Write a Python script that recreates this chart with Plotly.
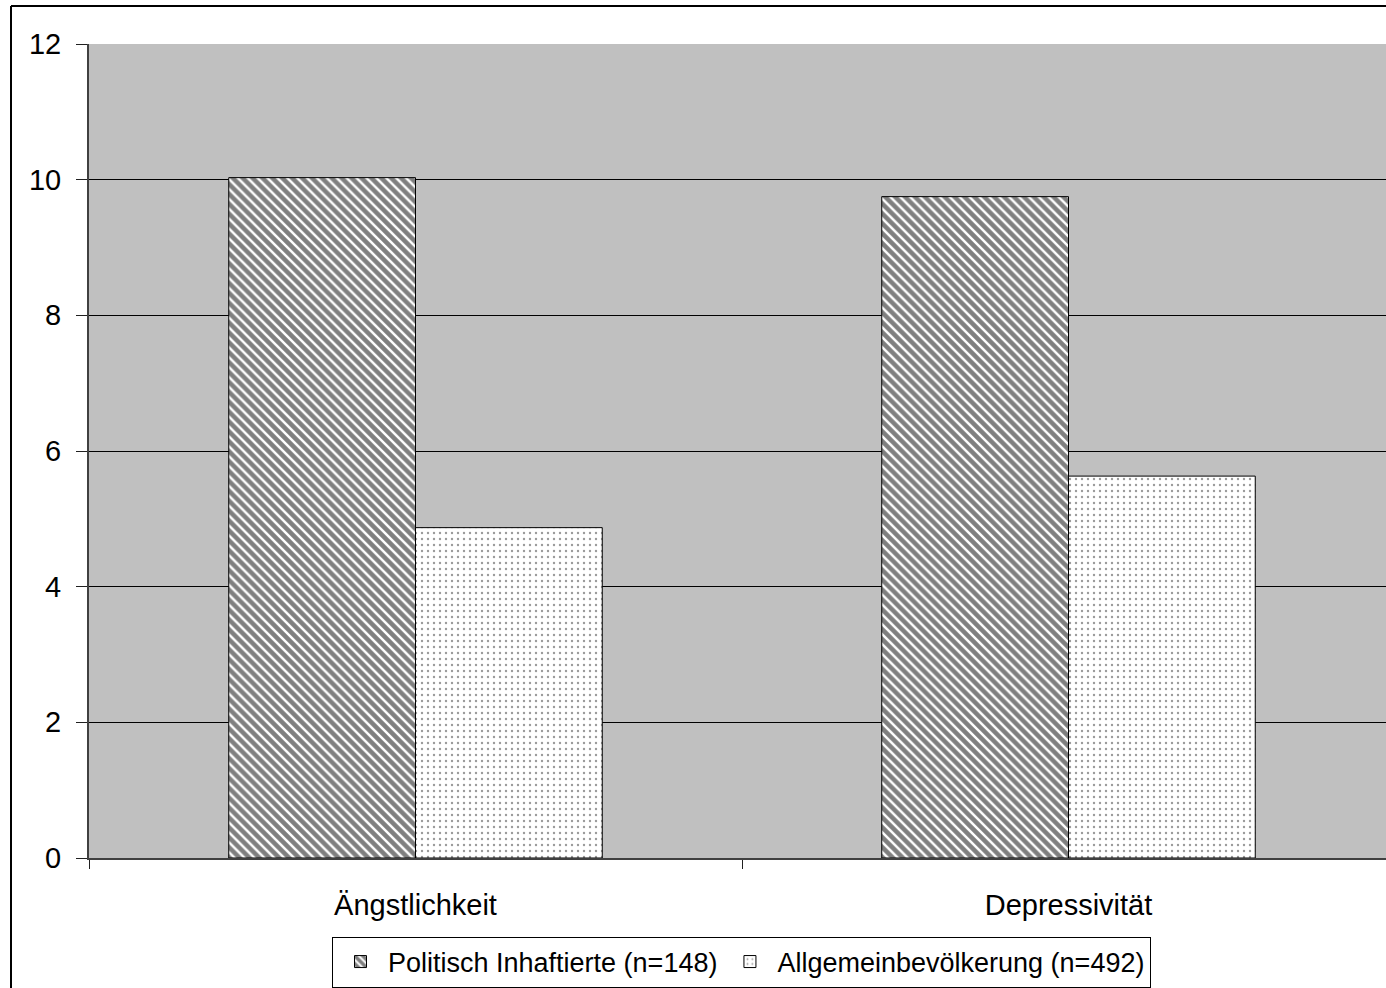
import plotly.graph_objects as go

categories = ["Ängstlichkeit", "Depressivität"]
inhaftierte = [10.03, 9.75]
bevoelkerung = [4.87, 5.63]
series_names = ["Politisch Inhaftierte (n=148)", "Allgemeinbevölkerung (n=492)"]
y_ticks = [0, 2, 4, 6, 8, 10, 12]

FONT = "Liberation Sans, Arial, sans-serif"

fig = go.Figure()
fig.add_trace(go.Bar(
    x=categories, y=inhaftierte, name=series_names[0],
    marker=dict(
        color="white",
        line=dict(color="black", width=1),
        pattern=dict(shape="\\", fgcolor="black", bgcolor="white", size=7, solidity=0.65),
    ),
))
fig.add_trace(go.Bar(
    x=categories, y=bevoelkerung, name=series_names[1],
    marker=dict(
        color="white",
        line=dict(color="black", width=1),
        pattern=dict(shape=".", fgcolor="#333333", bgcolor="white", size=6, solidity=0.12),
    ),
))

fig.update_layout(
    width=1386, height=988,
    margin=dict(l=89, r=0, t=44, b=130),
    paper_bgcolor="white",
    plot_bgcolor="#C0C0C0",
    barmode="group",
    bargap=0.428,
    bargroupgap=0,
    font=dict(family=FONT, size=28, color="black"),
    showlegend=True,
    legend=dict(
        orientation="h",
        xref="container", yref="container",
        x=741.5 / 1386, y=1 - 962 / 988,
        xanchor="center", yanchor="middle",
        bordercolor="black", borderwidth=1,
        bgcolor="white",
        font=dict(family=FONT, size=27, color="black"),
        itemwidth=45,
        tracegroupgap=0,
    ),
    shapes=[
        # outer chart frame (top and left edges)
        dict(type="line", xref="paper", yref="paper",
             x0=-78 / 1297, x1=1.01, y0=1 + 38 / 814, y1=1 + 38 / 814,
             line=dict(color="black", width=2)),
        dict(type="line", xref="paper", yref="paper",
             x0=-78 / 1297, x1=-78 / 1297, y0=-0.2, y1=1 + 38 / 814,
             line=dict(color="black", width=2)),
    ],
)

fig.update_xaxes(
    type="category",
    range=[-0.5, -0.5 + 1297 / 653],
    showgrid=False,
    showline=True, linecolor="#404040", linewidth=2,
    ticks="outside", ticklen=9, tickcolor="#202020", tickwidth=1,
    tickson="boundaries",
    ticklabelstandoff=20,
    tickfont=dict(family=FONT, size=29, color="black"),
)
fig.update_yaxes(
    range=[0, 12],
    tickvals=y_ticks,
    showgrid=True, gridcolor="black", gridwidth=1,
    showline=True, linecolor="#404040", linewidth=2,
    ticks="outside", ticklen=11, tickcolor="#202020", tickwidth=1,
    ticklabelstandoff=9,
    zeroline=False,
    tickfont=dict(family=FONT, size=29, color="black"),
)

fig.write_html("out.html")
